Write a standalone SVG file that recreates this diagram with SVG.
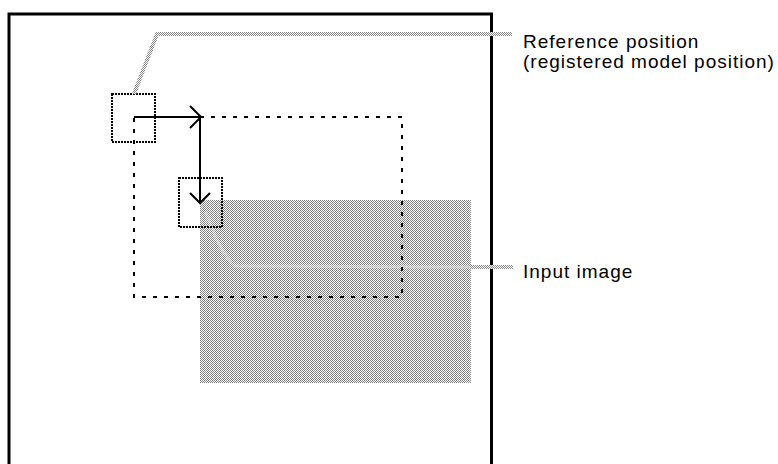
<svg xmlns="http://www.w3.org/2000/svg" width="778" height="464" viewBox="0 0 778 464">
<style>
.lbl{font-family:"Liberation Sans",Arial,sans-serif;font-size:19px;letter-spacing:1px;fill:#000}
.dot{fill:none;stroke:#000;stroke-width:2;stroke-dasharray:2 1}
.lead{fill:none;stroke:url(#dots);stroke-width:4}
.arr{fill:none;stroke:#000;stroke-width:2}
</style>
<defs>
<pattern id="dots" width="2" height="2" patternUnits="userSpaceOnUse">
<rect width="2" height="2" fill="#fff"/>
<rect width="1" height="1" fill="#888"/>
<rect x="1" y="1" width="1" height="1" fill="#888"/>
</pattern>
<pattern id="img" width="4" height="2" patternUnits="userSpaceOnUse">
<rect width="4" height="2" fill="#fff"/>
<rect width="1" height="1" fill="#777"/>
<rect x="1" y="1" width="1" height="1" fill="#888"/>
<rect x="2" width="1" height="1" fill="#888"/>
<rect x="3" y="1" width="1" height="1" fill="#777"/>
</pattern>
</defs>
<g id="frame">
<path d="M9 470 V14 H491.5 V470" fill="none" stroke="#000" stroke-width="3"/>
</g>
<g id="input-image">
<rect x="200" y="200" width="271" height="183" fill="url(#img)" shape-rendering="crispEdges"/>
<path d="M206 212 Q220 255 236 266 L470 267" fill="none" stroke="#fff" stroke-opacity="0.3" stroke-width="3"/>
</g>
<g id="model-position">
<rect x="134" y="117" width="268" height="180" fill="none" stroke="#000" stroke-width="2" stroke-dasharray="4 7"/>
</g>
<g id="ref-box">
<rect x="112" y="94" width="43" height="48" class="dot"/>
</g>
<g id="target-box">
<rect x="179" y="178" width="43" height="49" class="dot"/>
</g>
<g id="connectors">
<path d="M134 117 H201" class="arr"/>
<path d="M190 106 L201 117 L190 128" class="arr"/>
<path d="M200 117 V203" class="arr"/>
<path d="M190 193 L200 203 L210 193" class="arr"/>
<path d="M134 94 L157 34 H512" class="lead"/>
<path d="M470 267 H513" class="lead"/>
</g>
<g id="labels">
<text x="523" y="48" class="lbl">Reference position</text>
<text x="523" y="68" class="lbl">(registered model position)</text>
<text x="523" y="278" class="lbl">Input image</text>
</g>
</svg>
